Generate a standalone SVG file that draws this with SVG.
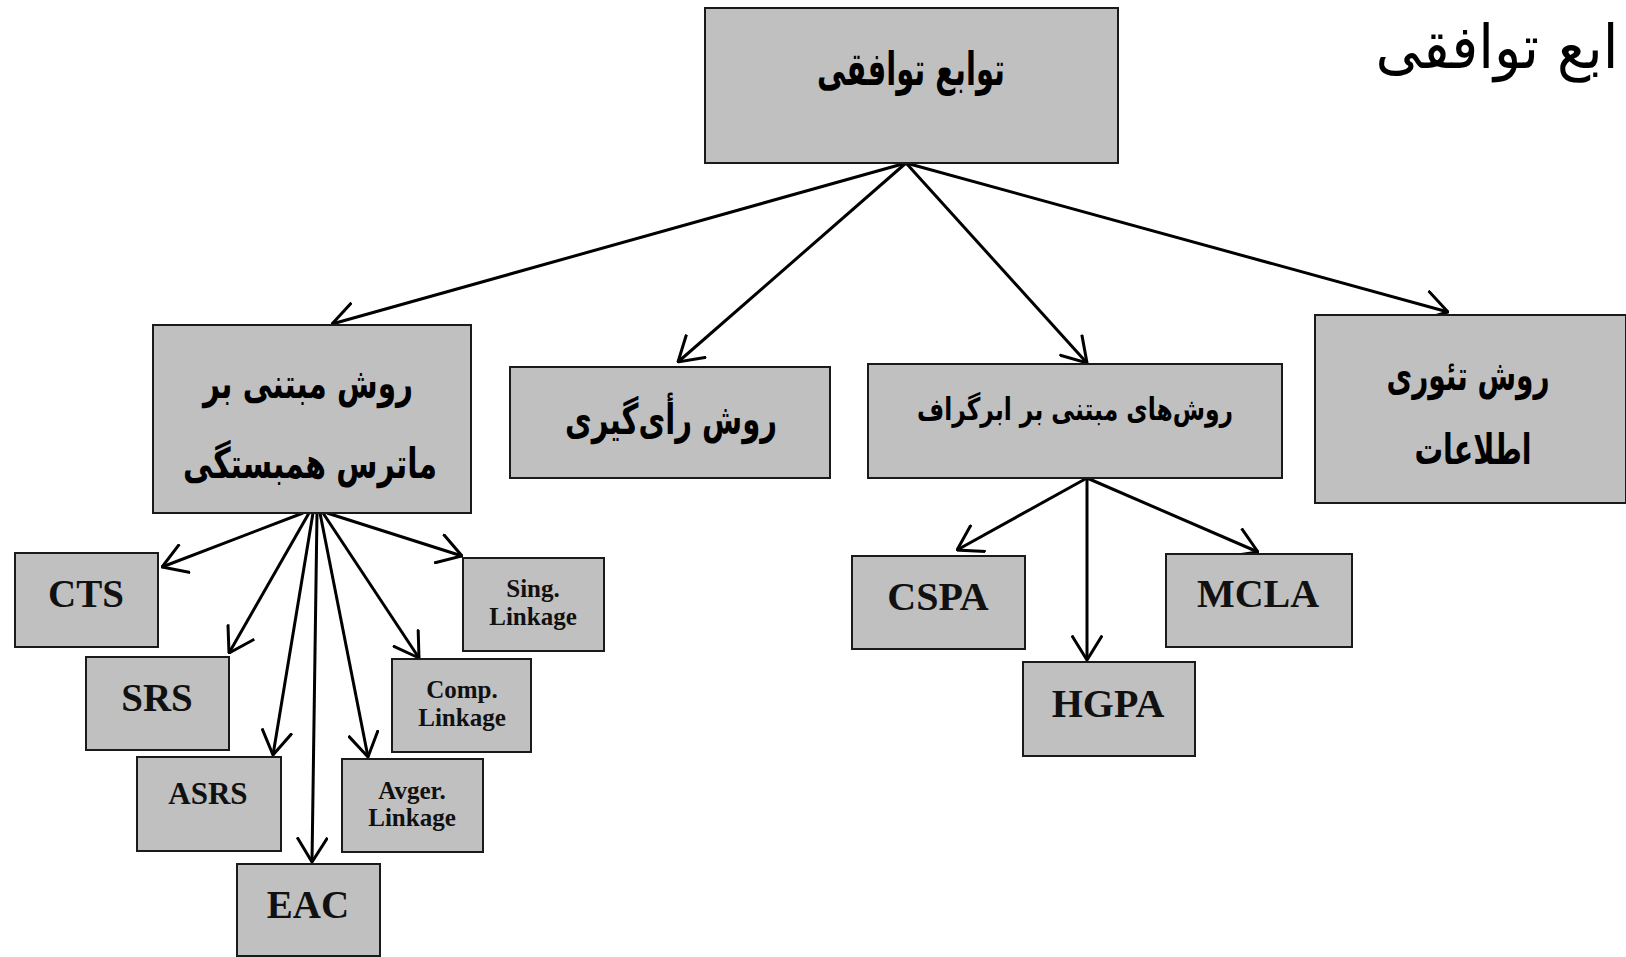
<svg xmlns="http://www.w3.org/2000/svg" width="1626" height="957" viewBox="0 0 1626 957">
<defs>
<marker id="ah" viewBox="0 0 26 32" refX="25" refY="16" markerWidth="26" markerHeight="32" markerUnits="userSpaceOnUse" orient="auto">
<path d="M0.5,0.8 L25,16 L0.5,31.2" fill="none" stroke="#000" stroke-width="3"/>
</marker>
<style>
.box{fill:#c0c0c0;stroke:#1a1a1a;stroke-width:2}
.fa{font-family:"DejaVu Sans",sans-serif;font-weight:bold;fill:#000;text-anchor:middle}
.en{font-family:"Liberation Serif",serif;font-weight:bold;fill:#111;text-anchor:middle}
.edge{stroke:#000;stroke-width:3;fill:none;marker-end:url(#ah)}
</style>
</defs>
<rect width="1626" height="957" fill="#fff"/>
<text x="1497" y="68" font-family="DejaVu Sans, sans-serif" font-size="60" text-anchor="middle" textLength="243" lengthAdjust="spacingAndGlyphs" fill="#000">ابع توافقی</text>

<g id="connectors">
<line class="edge" x1="906" y1="163" x2="332" y2="324"/>
<line class="edge" x1="906" y1="163" x2="678" y2="362"/>
<line class="edge" x1="906" y1="163" x2="1087" y2="363"/>
<line class="edge" x1="906" y1="163" x2="1448" y2="312"/>
<line class="edge" x1="303" y1="513" x2="162" y2="567"/>
<line class="edge" x1="309" y1="513" x2="229" y2="653"/>
<line class="edge" x1="313" y1="513" x2="273" y2="755"/>
<line class="edge" x1="317" y1="513" x2="312" y2="862"/>
<line class="edge" x1="320" y1="513" x2="368" y2="757"/>
<line class="edge" x1="323" y1="513" x2="419" y2="658"/>
<line class="edge" x1="327" y1="513" x2="462" y2="556"/>
<line class="edge" x1="1087" y1="478" x2="957" y2="550"/>
<line class="edge" x1="1087" y1="478" x2="1087" y2="660"/>
<line class="edge" x1="1087" y1="478" x2="1258" y2="552"/>
</g>

<g id="n-root">
<rect class="box" x="705" y="8" width="413" height="155"/>
<text class="fa" x="911" y="85" font-size="46" textLength="188" lengthAdjust="spacingAndGlyphs">توابع توافقی</text>
</g>
<g id="n-matrix">
<rect class="box" x="153" y="325" width="318" height="188"/>
<text class="fa" x="308" y="398" font-size="42" textLength="210" lengthAdjust="spacingAndGlyphs">روش مبتنی بر</text>
<text class="fa" x="310" y="478" font-size="42" textLength="254" lengthAdjust="spacingAndGlyphs">ماترس همبستگی</text>
</g>
<g id="n-vote">
<rect class="box" x="510" y="367" width="320" height="111"/>
<text class="fa" x="671" y="434" font-size="42" textLength="212" lengthAdjust="spacingAndGlyphs">روش رأی‌گیری</text>
</g>
<g id="n-hyper">
<rect class="box" x="868" y="364" width="414" height="114"/>
<text class="fa" x="1075" y="420" font-size="31" textLength="316" lengthAdjust="spacingAndGlyphs">روش‌های مبتنی بر ابرگراف</text>
</g>
<g id="n-info">
<rect class="box" x="1315" y="315" width="311" height="188"/>
<text class="fa" x="1468" y="390" font-size="42" textLength="163" lengthAdjust="spacingAndGlyphs">روش تئوری</text>
<text class="fa" x="1473" y="464" font-size="42" textLength="117" lengthAdjust="spacingAndGlyphs">اطلاعات</text>
</g>
<g id="n-cts">
<rect class="box" x="15" y="553" width="143" height="94"/>
<text class="en" x="86" y="607" font-size="39">CTS</text>
</g>
<g id="n-srs">
<rect class="box" x="86" y="657" width="143" height="93"/>
<text class="en" x="157" y="711" font-size="39">SRS</text>
</g>
<g id="n-asrs">
<rect class="box" x="137" y="757" width="144" height="94"/>
<text class="en" x="208" y="804" font-size="31">ASRS</text>
</g>
<g id="n-eac">
<rect class="box" x="237" y="864" width="143" height="92"/>
<text class="en" x="308" y="918" font-size="39">EAC</text>
</g>
<g id="n-avg">
<rect class="box" x="342" y="759" width="141" height="93"/>
<text class="en" x="412" y="799" font-size="25">Avger.</text>
<text class="en" x="412" y="826" font-size="25">Linkage</text>
</g>
<g id="n-comp">
<rect class="box" x="392" y="659" width="139" height="93"/>
<text class="en" x="462" y="698" font-size="25">Comp.</text>
<text class="en" x="462" y="726" font-size="25">Linkage</text>
</g>
<g id="n-sing">
<rect class="box" x="463" y="558" width="141" height="93"/>
<text class="en" x="533" y="597" font-size="25">Sing.</text>
<text class="en" x="533" y="625" font-size="25">Linkage</text>
</g>
<g id="n-cspa">
<rect class="box" x="852" y="556" width="173" height="93"/>
<text class="en" x="938" y="610" font-size="40">CSPA</text>
</g>
<g id="n-hgpa">
<rect class="box" x="1023" y="662" width="172" height="94"/>
<text class="en" x="1108" y="717" font-size="40">HGPA</text>
</g>
<g id="n-mcla">
<rect class="box" x="1166" y="554" width="186" height="93"/>
<text class="en" x="1258" y="607" font-size="40">MCLA</text>
</g>
</svg>
